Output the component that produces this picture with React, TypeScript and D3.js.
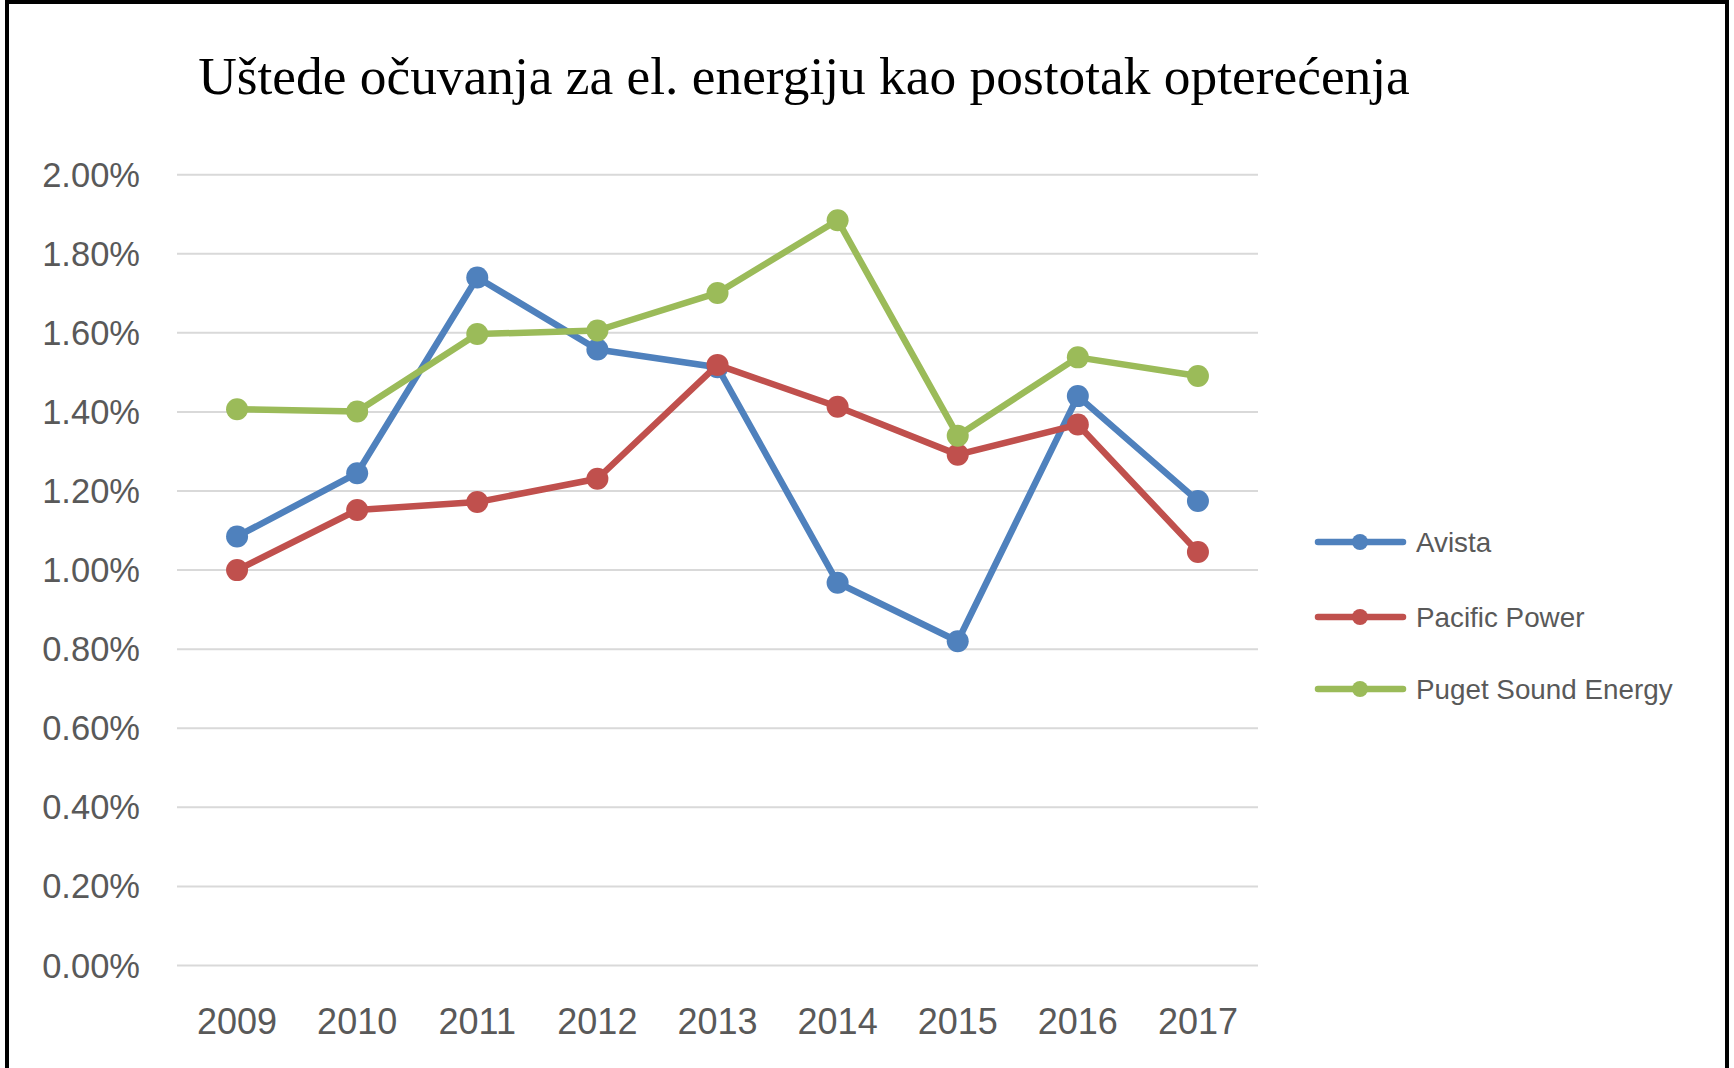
import React, { useEffect, useRef } from "react";
import * as d3 from "d3";

const years = ["2009", "2010", "2011", "2012", "2013", "2014", "2015", "2016", "2017"];
const avista = [1.085, 1.245, 1.74, 1.558, 1.513, 0.968, 0.82, 1.44, 1.175];
const pacificPower = [1.0, 1.152, 1.172, 1.231, 1.519, 1.413, 1.292, 1.368, 1.046];
const pugetSound = [1.407, 1.401, 1.597, 1.606, 1.701, 1.885, 1.34, 1.538, 1.491];
const yTicks = [0, 0.2, 0.4, 0.6, 0.8, 1.0, 1.2, 1.4, 1.6, 1.8, 2.0];

const seriesNames = ["Avista", "Pacific Power", "Puget Sound Energy"];
const seriesColors = ["#4F81BD", "#C0504D", "#9BBB59"];

const App = () => {
  const ref = useRef<SVGSVGElement>(null);

  useEffect(() => {
    const w = 1734;
    const h = 1068;
    const svg = d3.select(ref.current);
    svg.selectAll("*").remove();

    svg.append("rect").attr("width", w).attr("height", h).attr("fill", "white");

    // frame
    svg.append("rect")
      .attr("x", 7).attr("y", 2)
      .attr("width", 1720).attr("height", 1090)
      .attr("fill", "none")
      .attr("stroke", "black")
      .attr("stroke-width", 4);

    svg.append("text")
      .text("Uštede očuvanja za el. energiju kao postotak opterećenja")
      .attr("x", 804)
      .attr("y", 94)
      .attr("text-anchor", "middle")
      .attr("font-family", "Liberation Serif, Times New Roman, serif")
      .attr("font-size", 53.4)
      .attr("fill", "black");

    const x = d3.scaleBand().domain(years).range([177, 1258]);
    const y = d3.scaleLinear().domain([0, 2]).range([965.5, 174.7]);

    const font = "Liberation Sans, Arial, sans-serif";

    svg.append("g")
      .selectAll("line")
      .data(yTicks)
      .enter()
      .append("line")
      .attr("x1", 177).attr("x2", 1258)
      .attr("y1", d => y(d)).attr("y2", d => y(d))
      .attr("stroke", "#d9d9d9")
      .attr("stroke-width", 2);

    svg.append("g")
      .selectAll("text")
      .data(yTicks)
      .enter()
      .append("text")
      .text(d => d.toFixed(2) + "%")
      .attr("x", 140)
      .attr("y", d => y(d) + 12)
      .attr("text-anchor", "end")
      .attr("font-family", font)
      .attr("font-size", 34.5)
      .attr("fill", "#595959");

    svg.append("g")
      .selectAll("text")
      .data(years)
      .enter()
      .append("text")
      .text(d => d)
      .attr("x", d => (x(d) || 0) + x.bandwidth() / 2)
      .attr("y", 1034)
      .attr("text-anchor", "middle")
      .attr("font-family", font)
      .attr("font-size", 36)
      .attr("fill", "#595959");

    const allSeries = [avista, pacificPower, pugetSound];
    const line = d3.line<number>()
      .x((_, i) => (x(years[i]) || 0) + x.bandwidth() / 2)
      .y(d => y(d));

    allSeries.forEach((vals, si) => {
      const g = svg.append("g");
      g.append("path")
        .attr("d", line(vals))
        .attr("fill", "none")
        .attr("stroke", seriesColors[si])
        .attr("stroke-width", 6.5)
        .attr("stroke-linejoin", "round")
        .attr("stroke-linecap", "round");
      g.selectAll("circle")
        .data(vals)
        .enter()
        .append("circle")
        .attr("cx", (_, i) => (x(years[i]) || 0) + x.bandwidth() / 2)
        .attr("cy", d => y(d))
        .attr("r", 11)
        .attr("fill", seriesColors[si]);
    });

    // legend
    const legendY = [542, 617, 689];
    seriesNames.forEach((name, i) => {
      const g = svg.append("g");
      g.append("line")
        .attr("x1", 1318).attr("x2", 1403)
        .attr("y1", legendY[i]).attr("y2", legendY[i])
        .attr("stroke", seriesColors[i])
        .attr("stroke-width", 6.5)
        .attr("stroke-linecap", "round");
      g.append("circle")
        .attr("cx", 1360).attr("cy", legendY[i])
        .attr("r", 8)
        .attr("fill", seriesColors[i]);
      g.append("text")
        .text(name)
        .attr("x", 1416)
        .attr("y", legendY[i] + 10)
        .attr("font-family", font)
        .attr("font-size", 27.8)
        .attr("fill", "#595959");
    });
  }, []);

  return (
    <svg
      ref={ref}
      width={1734}
      height={1068}
      style={{ position: "absolute", left: 0, top: 0 }}
    />
  );
};

export default App;
